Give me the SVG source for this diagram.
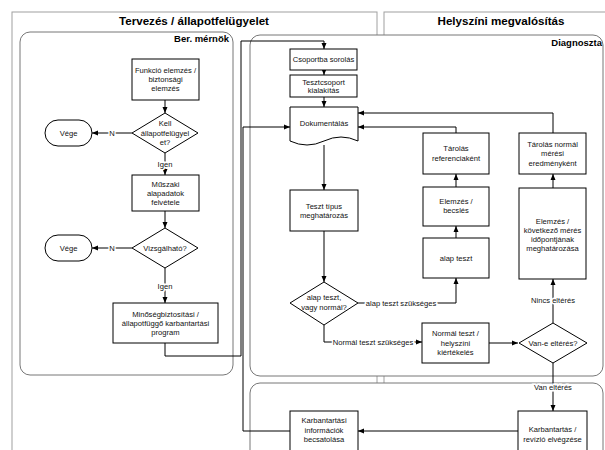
<svg xmlns="http://www.w3.org/2000/svg" width="605" height="450" viewBox="0 0 605 450">
<style>
.pool{fill:#fff;stroke:#a0a0a0;stroke-width:1}
.lane{fill:#fff;stroke:#777;stroke-width:1}
.box{fill:#fff;stroke:#000;stroke-width:1}
.t{font-family:"Liberation Sans",Arial,sans-serif;font-size:7.6px;fill:#111;text-anchor:middle}
.h{font-family:"Liberation Sans",Arial,sans-serif;font-size:11.6px;font-weight:bold;fill:#000;text-anchor:middle}
.ln{font-family:"Liberation Sans",Arial,sans-serif;font-size:9.5px;font-weight:bold;fill:#000;text-anchor:end}
.lbl{font-family:"Liberation Sans",Arial,sans-serif;font-size:7.6px;fill:#111;text-anchor:middle;stroke:#fff;stroke-width:3;paint-order:stroke}
.c{fill:none;stroke:#000;stroke-width:1;marker-end:url(#ah)}
.cn{fill:none;stroke:#000;stroke-width:1}
</style>
<defs>
<marker id="ah" viewBox="0 0 6 6" refX="6" refY="3" markerWidth="6" markerHeight="6" orient="auto" markerUnits="userSpaceOnUse">
<path d="M0,0.5 L6,3 L0,5.5 z" fill="#000"/>
</marker>
</defs>
<rect width="605" height="450" fill="#fff"/>
<g id="pool-tervezes">
<rect class="pool" x="12" y="12" width="365" height="460"/>
<text class="h" x="194" y="25">Tervezés / állapotfelügyelet</text>
</g>
<g id="pool-helyszini">
<rect class="pool" x="384" y="12" width="240" height="460"/>
<text class="h" x="501" y="25">Helyszíni megvalósítás</text>
</g>
<g id="lane-ber">
<rect class="lane" x="20" y="32" width="213" height="343" rx="10"/>
<text class="ln" x="229" y="42">Ber. mérnök</text>
</g>
<g id="lane-diag">
<rect class="lane" x="250" y="35" width="353" height="341" rx="10"/>
<text class="ln" x="602" y="46">Diagnoszta</text>
</g>
<g id="lane-karb">
<rect class="lane" x="250" y="383" width="353" height="100" rx="10"/>
</g>
<g id="connectors">
<path class="c" d="M165,100 V113"/>
<path class="c" d="M132,133 H92"/>
<path class="c" d="M165,153 V175"/>
<path class="c" d="M165,211 V228"/>
<path class="c" d="M132,248 H92"/>
<path class="c" d="M165,268 V303"/>
<path class="c" d="M165,343 V356 H241 V41 H324 V49"/>
<path class="c" d="M324,70 V75"/>
<path class="c" d="M324,97 V107"/>
<path class="c" d="M324,145 V190"/>
<path class="c" d="M324,231 V282"/>
<path class="c" d="M358,303 H456 V278"/>
<path class="c" d="M456,238 V226"/>
<path class="c" d="M456,187 V174"/>
<path class="c" d="M456,133 V127 H358"/>
<path class="c" d="M553,133 V113 H358"/>
<path class="c" d="M553,188 V174"/>
<path class="c" d="M553,323 V279"/>
<path class="c" d="M324,325 V342 H422"/>
<path class="c" d="M489,343 H518"/>
<path class="c" d="M553,363 V411"/>
<path class="c" d="M518,431 H358"/>
<path class="c" d="M290,431 H243 V127 H290"/>
<text class="lbl" x="112" y="135.7">N</text>
<text class="lbl" x="112" y="250.7">N</text>
<text class="lbl" x="165" y="166.5">Igen</text>
<text class="lbl" x="165" y="288.5">Igen</text>
<text class="lbl" x="401" y="305.7">alap teszt szükséges</text>
<text class="lbl" x="373" y="344.5">Normál teszt szükséges</text>
<text class="lbl" x="553" y="302.7">Nincs eltérés</text>
<text class="lbl" x="553" y="389.7">Van eltérés</text>
</g>
<g id="n-funkcio">
<rect class="box" x="132" y="59" width="67" height="41"/>
<text class="t" x="165.5" y="73">Funkció elemzés /</text>
<text class="t" x="165.5" y="82.2">biztonsági</text>
<text class="t" x="165.5" y="91.4">elemzés</text>
</g>
<g id="n-kell">
<path class="box" d="M165,113 L198,133 L165,153 L132,133 Z"/>
<text class="t" x="165" y="126">Kell</text>
<text class="t" x="165" y="135.6">állapotfelügyel</text>
<text class="t" x="165" y="145.2">et?</text>
</g>
<g id="n-vege1">
<rect class="box" x="45" y="120" width="47" height="26" rx="13"/>
<text class="t" x="68.5" y="135.7">Vége</text>
</g>
<g id="n-muszaki">
<rect class="box" x="132" y="175" width="67" height="36"/>
<text class="t" x="165.5" y="186.5">Műszaki</text>
<text class="t" x="165.5" y="195.7">alapadatok</text>
<text class="t" x="165.5" y="204.9">felvétele</text>
</g>
<g id="n-vizsgalhato">
<path class="box" d="M165,228 L198,248 L165,268 L132,248 Z"/>
<text class="t" x="165" y="250.7">Vizsgálható?</text>
</g>
<g id="n-vege2">
<rect class="box" x="45" y="235" width="47" height="26" rx="13"/>
<text class="t" x="68.5" y="250.7">Vége</text>
</g>
<g id="n-minoseg">
<rect class="box" x="113" y="303" width="105" height="40"/>
<text class="t" x="165.5" y="316.5">Minőségbiztosítási /</text>
<text class="t" x="165.5" y="325.9">állapotfüggő karbantartási</text>
<text class="t" x="165.5" y="335.3">program</text>
</g>
<g id="n-csoport">
<rect class="box" x="290" y="49" width="67" height="21"/>
<text class="t" x="323.5" y="62.2">Csoportba sorolás</text>
</g>
<g id="n-tesztcsoport">
<rect class="box" x="290" y="75" width="67" height="22"/>
<text class="t" x="323.5" y="84.7">Tesztcsoport</text>
<text class="t" x="323.5" y="92.7">kialakítás</text>
</g>
<g id="n-dok">
<path class="box" d="M290,107 H358 V141 Q341,133 324,141 T290,141 Z"/>
<text class="t" x="324" y="125.5">Dokumentálás</text>
</g>
<g id="n-teszttipus">
<rect class="box" x="290" y="190" width="68" height="41"/>
<text class="t" x="324" y="208.5">Teszt típus</text>
<text class="t" x="324" y="218">meghatározás</text>
</g>
<g id="n-alapvagy">
<path class="box" d="M324,282 L358,303 L324,325 L290,303 Z"/>
<text class="t" x="324" y="300">alap teszt,</text>
<text class="t" x="324" y="309.5">vagy normál?</text>
</g>
<g id="n-taroref">
<rect class="box" x="423" y="133" width="66" height="41"/>
<text class="t" x="456" y="151">Tárolás</text>
<text class="t" x="456" y="161">referenciaként</text>
</g>
<g id="n-elemzes1">
<rect class="box" x="423" y="187" width="66" height="39"/>
<text class="t" x="456" y="203.5">Elemzés /</text>
<text class="t" x="456" y="213">becslés</text>
</g>
<g id="n-alapteszt">
<rect class="box" x="423" y="238" width="66" height="40"/>
<text class="t" x="456" y="260.7">alap teszt</text>
</g>
<g id="n-taronorm">
<rect class="box" x="519" y="133" width="67" height="41"/>
<text class="t" x="552.5" y="147">Tárolás normál</text>
<text class="t" x="552.5" y="156.3">mérési</text>
<text class="t" x="552.5" y="165.6">eredményként</text>
</g>
<g id="n-elemzes2">
<rect class="box" x="519" y="188" width="67" height="91"/>
<text class="t" x="552.5" y="223.5">Elemzés /</text>
<text class="t" x="552.5" y="232.5">következő mérés</text>
<text class="t" x="552.5" y="241.5">időpontjának</text>
<text class="t" x="552.5" y="250.5">meghatározása</text>
</g>
<g id="n-normal">
<rect class="box" x="422" y="323" width="67" height="40"/>
<text class="t" x="455.5" y="336">Normál teszt /</text>
<text class="t" x="455.5" y="345.5">helyszíni</text>
<text class="t" x="455.5" y="355">kiértékelés</text>
</g>
<g id="n-vane">
<path class="box" d="M553,323 L587,343 L553,363 L519,343 Z"/>
<text class="t" x="553" y="345.7">Van-e eltérés?</text>
</g>
<g id="n-karbinfo">
<rect class="box" x="290" y="411" width="68" height="60"/>
<text class="t" x="324" y="423">Karbantartási</text>
<text class="t" x="324" y="432.5">információk</text>
<text class="t" x="324" y="442">becsatolása</text>
</g>
<g id="n-karb">
<rect class="box" x="518" y="411" width="69" height="60"/>
<text class="t" x="552.5" y="432">Karbantartás /</text>
<text class="t" x="552.5" y="442">revízió elvégzése</text>
</g>
</svg>
